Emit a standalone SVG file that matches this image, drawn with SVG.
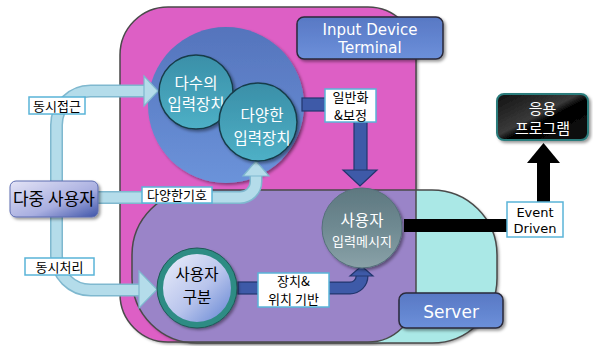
<svg xmlns="http://www.w3.org/2000/svg" width="593" height="346" viewBox="0 0 593 346">
<style>
.kr{font-family:"Noto Sans CJK KR","Noto Sans",sans-serif;}
.lat{font-family:"DejaVu Sans","Verdana",sans-serif;}
.lbl{fill:#fff;stroke:#5ab4d8;stroke-width:1.5;}
.lt{font-size:13px;fill:#000;text-anchor:middle;}
.wt{fill:#fff;text-anchor:middle;}
.lb-out{fill:none;stroke:#7fb8cf;stroke-width:13;}
.lb-in{fill:none;stroke:#b4dcea;stroke-width:10;}
.lb-head{fill:#b4dcea;stroke:#7fb8cf;stroke-width:1.2;}
.db{fill:#3e5aa8;stroke:#22366e;stroke-width:1.2;}
.db-out{fill:none;stroke:#22366e;stroke-width:13;}
.db-in{fill:none;stroke:#3e5aa8;stroke-width:10.5;}
.shape-line{fill:none;stroke:#4a4a4a;stroke-width:1.5;}
</style>
<defs>
<filter id="sh" x="-20%" y="-20%" width="140%" height="140%">
<feDropShadow dx="2" dy="2" stdDeviation="1.5" flood-color="#000" flood-opacity="0.4"/>
</filter>
<clipPath id="pinkClip"><rect x="120" y="7" width="296" height="335" rx="48"/></clipPath>
<linearGradient id="gBlue" x1="0" y1="0" x2="0" y2="1"><stop offset="0" stop-color="#5574bc"/><stop offset="1" stop-color="#6b93da"/></linearGradient>
<linearGradient id="gTeal" x1="0" y1="0" x2="0" y2="1"><stop offset="0" stop-color="#3a8fa8"/><stop offset="1" stop-color="#4eb0c6"/></linearGradient>
<linearGradient id="gGray" x1="0" y1="0" x2="0" y2="1"><stop offset="0" stop-color="#5e7880"/><stop offset="0.5" stop-color="#6f8a92"/><stop offset="1" stop-color="#8aa2a8"/></linearGradient>
<linearGradient id="gBox" x1="0" y1="0" x2="0" y2="1"><stop offset="0" stop-color="#5878c4"/><stop offset="1" stop-color="#6c90da"/></linearGradient>
<linearGradient id="gBlack" x1="0" y1="0" x2="1" y2="1"><stop offset="0" stop-color="#111"/><stop offset="0.45" stop-color="#3a3a3a"/><stop offset="0.55" stop-color="#000"/><stop offset="1" stop-color="#111"/></linearGradient>
<linearGradient id="gUser" x1="0" y1="0" x2="1" y2="1"><stop offset="0" stop-color="#e4e4f6"/><stop offset="0.6" stop-color="#a8aee0"/><stop offset="1" stop-color="#3e54a8"/></linearGradient>
<linearGradient id="gDiv" x1="0" y1="0" x2="1" y2="1"><stop offset="0" stop-color="#f0f2fc"/><stop offset="0.55" stop-color="#b8c4ec"/><stop offset="1" stop-color="#5a7ed0"/></linearGradient>
</defs>

<g id="backgrounds">
<rect x="120" y="7" width="296" height="335" rx="48" fill="#dd5fc5" filter="url(#sh)"/>
<rect x="132" y="190" width="365" height="153" rx="65" fill="#aae8e6" filter="url(#sh)"/>
<rect x="132" y="190" width="365" height="153" rx="65" fill="#9a84c8" clip-path="url(#pinkClip)"/>
<rect x="120" y="7" width="296" height="335" rx="48" class="shape-line"/>
<rect x="132" y="190" width="365" height="153" rx="65" class="shape-line"/>
</g>

<g id="input-device-terminal">
<rect x="297" y="17" width="146" height="42" rx="7" fill="url(#gBox)" stroke="#2a2a3a" stroke-width="1.5" filter="url(#sh)"/>
<text class="lat wt" x="370" y="35" font-size="15">Input Device</text>
<text class="lat wt" x="370" y="53" font-size="15">Terminal</text>
</g>

<g id="input-devices-big">
<circle cx="226" cy="105" r="78" fill="url(#gBlue)" filter="url(#sh)"/>
</g>

<g id="server">
<rect x="399" y="293" width="104" height="35" rx="7" fill="url(#gBox)" stroke="#2a2a3a" stroke-width="1.5" filter="url(#sh)"/>
<text class="lat wt" x="451" y="318" font-size="17">Server</text>
</g>

<g id="connectors">
<!-- 동시접근 -->
<path class="lb-out" d="M56.5,181 V125 A34,34 0 0 1 90.5,91 H145"/>
<path class="lb-in" d="M56.5,182 V125 A34,34 0 0 1 90.5,91 H146"/>
<polygon class="lb-head" points="144,76 158,91 144,106"/>
<!-- 다양한기호 -->
<path class="lb-out" d="M98,197.5 H240 A16,16 0 0 0 256,181.5 V175"/>
<path class="lb-in" d="M97,197.5 H240 A16,16 0 0 0 256,181.5 V174"/>
<polygon class="lb-head" points="243,176 256,161 269,176"/>
<!-- 동시처리 -->
<path class="lb-out" d="M56.5,217 V256 A34,34 0 0 0 90.5,290 H140"/>
<path class="lb-in" d="M56.5,216 V256 A34,34 0 0 0 90.5,290 H141"/>
<polygon class="lb-head" points="139,271 157,289.5 139,308"/>
<!-- 일반화&보정 -->
<rect class="db" x="302" y="98" width="24" height="13"/>
<rect class="db" x="354" y="121" width="13" height="50"/>
<polygon class="db" points="343,170 377,170 360,186"/>
<!-- 장치&위치 기반 -->
<rect class="db" x="238" y="282" width="21" height="12"/>
<path class="db-out" d="M328,288 H350 A12,12 0 0 0 362,276 V275"/>
<path class="db-in" d="M327,288 H350 A12,12 0 0 0 362,276 V274"/>
<polygon class="db" points="350,276 361.5,266 373,276"/>
<!-- Event Driven -->
<rect x="404" y="219" width="104" height="13" fill="#000"/>
<rect x="537" y="162" width="13" height="41" fill="#000"/>
<polygon points="527,163 560,163 543.5,143" fill="#000"/>
</g>

<g id="multi-input">
<circle cx="196" cy="92" r="37" fill="url(#gTeal)" stroke="#173c4a" stroke-width="1.5" filter="url(#sh)"/>
<text class="kr wt" x="196" y="89" font-size="15.5">다수의</text>
<text class="kr wt" x="196" y="110" font-size="15.5">입력장치</text>
</g>

<g id="various-input">
<circle cx="258" cy="122" r="39" fill="url(#gTeal)" stroke="#173c4a" stroke-width="1.5" filter="url(#sh)"/>
<text class="kr wt" x="262" y="121" font-size="15.5">다양한</text>
<text class="kr wt" x="262" y="144" font-size="15.5">입력장치</text>
</g>

<g id="user-input-message">
<circle cx="362" cy="228" r="40" fill="url(#gGray)" stroke="#55707a" stroke-width="1" filter="url(#sh)"/>
<text class="kr wt" x="362" y="226" font-size="15.5">사용자</text>
<text class="kr wt" x="362" y="246" font-size="13">입력메시지</text>
</g>

<g id="user-division">
<circle cx="197" cy="288" r="37" fill="url(#gDiv)" stroke="#2e8c84" stroke-width="6" filter="url(#sh)"/>
<circle cx="197" cy="288" r="40" fill="none" stroke="#1e5a56" stroke-width="1"/>
<text class="kr" x="197" y="280" font-size="15.5" fill="#000" text-anchor="middle">사용자</text>
<text class="kr" x="197" y="303" font-size="15.5" fill="#000" text-anchor="middle">구분</text>
</g>

<g id="multi-user">
<rect x="10" y="181" width="88" height="36" rx="6" fill="url(#gUser)" stroke="#5c6cb0" stroke-width="1" filter="url(#sh)"/>
<text class="kr" x="54" y="205" font-size="17" fill="#000" text-anchor="middle">다중 사용자</text>
</g>

<g id="application">
<rect x="497" y="94" width="91" height="46" rx="7" fill="url(#gBlack)" stroke="#2c7c7c" stroke-width="2" filter="url(#sh)"/>
<text class="kr wt" x="542.5" y="114" font-size="15">응용</text>
<text class="kr wt" x="542.5" y="134" font-size="15">프로그램</text>
</g>

<g id="labels">
<g id="lbl-simul-access"><rect class="lbl" x="29" y="97" width="56" height="17"/><text class="kr lt" x="57" y="111">동시접근</text></g>
<g id="lbl-normalize"><rect class="lbl" x="325" y="89" width="51" height="33"/><text class="kr lt" x="350.5" y="101.5" font-size="12">일반화</text><text class="kr lt" x="350.5" y="119.5" font-size="12">&amp;보정</text></g>
<g id="lbl-various-sym"><rect class="lbl" x="142" y="187" width="70" height="16"/><text class="kr lt" x="177" y="200">다양한기호</text></g>
<g id="lbl-simul-proc"><rect class="lbl" x="25" y="258" width="69" height="17"/><text class="kr lt" x="59.5" y="272">동시처리</text></g>
<g id="lbl-device-pos"><rect class="lbl" x="258" y="273" width="71" height="34"/><text class="kr lt" x="293.5" y="285.5" font-size="12">장치&amp;</text><text class="kr lt" x="293.5" y="303.5" font-size="12">위치 기반</text></g>
<g id="lbl-event"><rect class="lbl" x="507" y="202" width="56" height="35"/><text class="lat lt" x="535" y="217" font-size="12.5">Event</text><text class="lat lt" x="535" y="233" font-size="12.5">Driven</text></g>
</g>
</svg>
